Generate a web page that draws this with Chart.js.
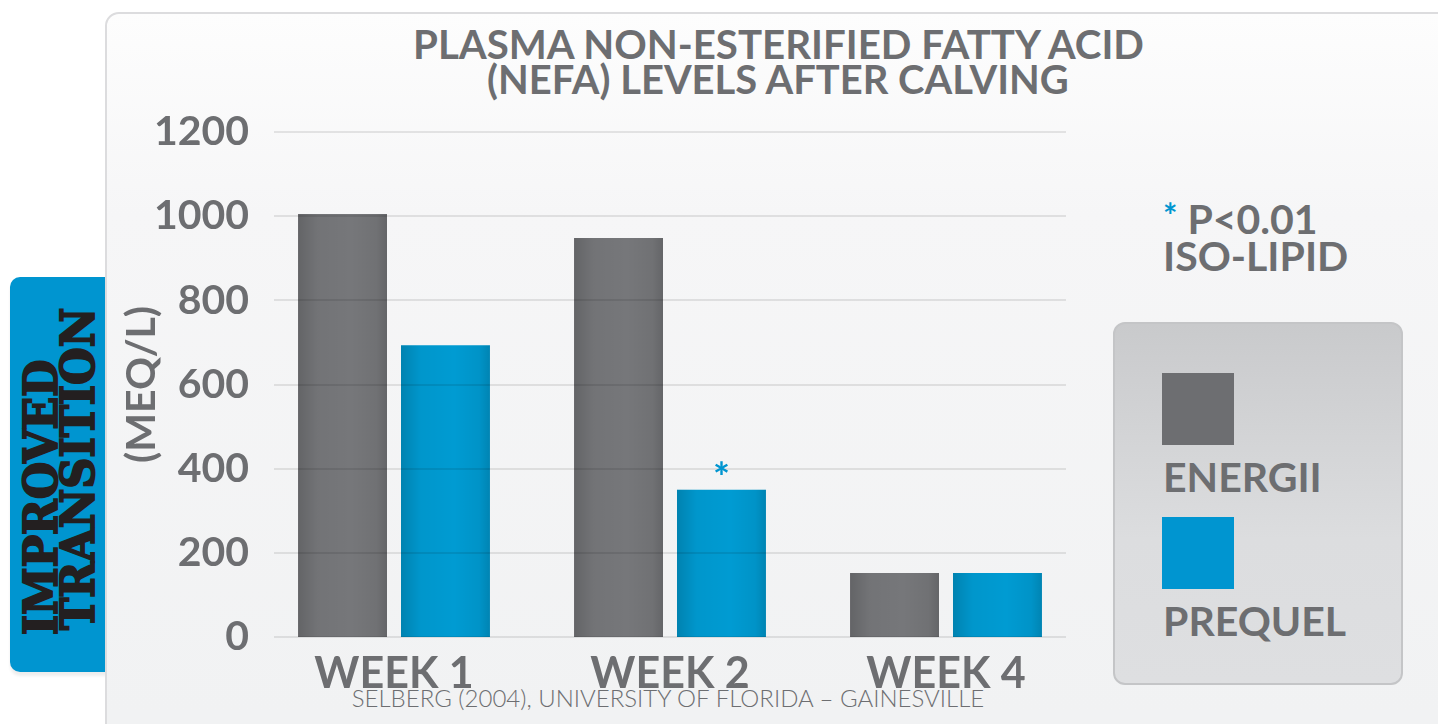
<!DOCTYPE html>
<html><head><meta charset="utf-8">
<script src="https://cdn.jsdelivr.net/npm/chart.js@4.4.1/dist/chart.umd.min.js"></script>
<style>
html,body{margin:0;padding:0;background:#fff;width:1438px;height:724px;overflow:hidden;font-family:Lato,sans-serif;}
#tab{position:absolute;left:10px;top:277px;width:120px;height:395px;background:#0095d0;border-radius:10px;box-shadow:0 4px 3px rgba(0,0,0,0.07);}
.tabline{position:absolute;transform-origin:0 0;font-family:"DejaVu Serif";font-weight:bold;color:#231f20;white-space:nowrap;line-height:1;font-size:47px;-webkit-text-stroke:2px #231f20;}
#panel{position:absolute;left:105px;top:12px;width:1400px;height:760px;border:2px solid #dcdcde;border-radius:14px;background:linear-gradient(#fdfdfd 0px,#f6f6f7 200px,#f1f2f3 700px);box-sizing:border-box;}
.txt{position:absolute;color:#6d6e71;font-weight:bold;font-size:41px;line-height:1;white-space:nowrap;}
#title{left:278px;width:1000px;top:26px;text-align:center;line-height:35px;}
#title div{display:inline-block;transform-origin:50% 50%;}
#note{left:1163px;top:196px;line-height:37px;}
#note .star{color:#0095d0;font-size:34px;vertical-align:6px;}
#source{left:218px;width:900px;top:686px;text-align:center;font-weight:300;font-size:24px;color:#6d6e71;}
#legend{position:absolute;left:1113px;top:322px;width:290px;height:363px;box-sizing:border-box;border:2px solid #c4c5c7;border-radius:12px;background:linear-gradient(#c9cacc,#dcdddf 60%,#dedfe1);}
.sw{position:absolute;left:47px;width:72px;height:72px;}
.lb{position:absolute;left:48px;color:#6d6e71;font-weight:bold;font-size:41px;line-height:1;}
#c{position:absolute;left:0;top:0;}
</style></head>
<body>
<div id="tab"></div>
<div class="tabline" id="tl1" style="left:17px;top:635px;">IMPROVED</div>
<div class="tabline" id="tl2" style="left:54px;top:630px;">TRANSITION</div>
<div id="panel"></div>
<div class="txt" id="title"><div id="t1">PLASMA NON-ESTERIFIED FATTY ACID</div><br><div id="t2">(NEFA) LEVELS AFTER CALVING</div></div>
<div class="txt" id="note"><span class="star">*</span> P&lt;0.01<br>ISO-LIPID</div>
<div class="txt" id="source">SELBERG (2004), UNIVERSITY OF FLORIDA – GAINESVILLE</div>
<div id="legend"></div>
<canvas id="c" width="1438" height="724"></canvas>
<script>
// ---- data ----
const categories = ['WEEK 1', 'WEEK 2', 'WEEK 4'];
const energii = [1005, 948, 152];
const prequel = [693, 350, 152];
const prequelSignificant = [false, true, false];
const yTickValues = [0, 200, 400, 600, 800, 1000, 1200];
const seriesNames = ['ENERGII', 'PREQUEL'];
const seriesColors = ['#76777a', '#009bd2'];
const legendColors = ['#6d6e71', '#0095d0'];

// ---- tab text fit ----
function fitRot(id, target){
  const el = document.getElementById(id);
  const w = el.offsetWidth;
  el.style.transform = 'rotate(-90deg) scaleX(' + (target / w) + ')';
}
fitRot('tl1', 276);
fitRot('tl2', 322);
function fitW(id, target){
  const el = document.getElementById(id);
  el.style.transform = 'scaleX(' + (target / el.offsetWidth) + ')';
}
fitW('t1', 731);
fitW('t2', 582);

// ---- legend ----
const legend = document.getElementById('legend');
seriesNames.forEach((name, i) => {
  const sw = document.createElement('div');
  sw.className = 'sw';
  sw.style.top = (49 + i * 144) + 'px';
  sw.style.background = legendColors[i];
  legend.appendChild(sw);
  const lb = document.createElement('div');
  lb.className = 'lb';
  lb.style.top = (132 + i * 144) + 'px';
  lb.textContent = name;
  legend.appendChild(lb);
});

// ---- plugins ----
const shadePlugin = {
  id: 'shade',
  afterDatasetsDraw(chart) {
    const ctx = chart.ctx;
    chart.data.datasets.forEach((ds, di) => {
      const meta = chart.getDatasetMeta(di);
      meta.data.forEach(el => {
        const p = el.getProps(['x', 'y', 'base', 'width'], true);
        const l = p.x - p.width / 2, r = p.x + p.width / 2;
        const g = ctx.createLinearGradient(l, 0, r, 0);
        g.addColorStop(0, 'rgba(0,0,0,0.16)');
        g.addColorStop(0.22, 'rgba(0,0,0,0.03)');
        g.addColorStop(0.6, 'rgba(0,0,0,0)');
        g.addColorStop(0.88, 'rgba(0,0,0,0.05)');
        g.addColorStop(1, 'rgba(0,0,0,0.15)');
        ctx.save();
        ctx.fillStyle = g;
        ctx.fillRect(l, p.y, p.width, p.base - p.y);
        ctx.restore();
      });
    });
  }
};
const gridPlugin = {
  id: 'grid2',
  afterDatasetsDraw(chart) {
    const ctx = chart.ctx, y = chart.scales.y, a = chart.chartArea;
    ctx.save();
    ctx.strokeStyle = 'rgba(0,0,0,0.09)';
    ctx.lineWidth = 2;
    y.ticks.forEach(t => {
      const py = Math.round(y.getPixelForValue(t.value));
      ctx.beginPath();
      ctx.moveTo(a.left + 18, py);
      ctx.lineTo(a.right - 18, py);
      ctx.stroke();
    });
    ctx.restore();
  }
};
const starPlugin = {
  id: 'star',
  afterDatasetsDraw(chart) {
    const ctx = chart.ctx;
    const meta = chart.getDatasetMeta(1);
    ctx.save();
    ctx.fillStyle = '#0095d0';
    ctx.font = 'bold 40px Lato';
    ctx.textAlign = 'center';
    ctx.textBaseline = 'alphabetic';
    meta.data.forEach((el, i) => {
      if (!prequelSignificant[i]) return;
      ctx.fillText('*', el.x, el.y + 2);
    });
    ctx.restore();
  }
};

const tickFont = { family: 'Lato', weight: 'bold', size: 41 };
new Chart(document.getElementById('c'), {
  type: 'bar',
  data: {
    labels: categories,
    datasets: [
      { label: seriesNames[0], data: energii, backgroundColor: seriesColors[0], categoryPercentage: 0.746, barPercentage: 0.864 },
      { label: seriesNames[1], data: prequel, backgroundColor: seriesColors[1], categoryPercentage: 0.746, barPercentage: 0.864 }
    ]
  },
  options: {
    responsive: false,
    devicePixelRatio: 1,
    animation: false,
    layout: { padding: { left: 0, right: 354, top: 132, bottom: 0 } },
    plugins: { legend: { display: false }, tooltip: { enabled: false }, title: { display: false } },
    scales: {
      x: {
        grid: { display: false }, border: { display: false },
        ticks: { color: '#6d6e71', font: { family: 'Lato', weight: 'bold', size: 43 }, padding: 3 },
        afterFit(s) { s.height = 87; }
      },
      y: {
        min: 0, max: 1200,
        afterBuildTicks(s) { s.ticks = yTickValues.map(v => ({ value: v })); },
        grid: { display: false, drawTicks: false }, border: { display: false },
        ticks: { color: '#6d6e71', font: tickFont, padding: 7, callback: v => String(v) },
        title: { display: true, text: '(MEQ/L)', color: '#6d6e71', font: tickFont, padding: { top: 117, bottom: 0 } },
        afterFit(s) { s.width = 256; }
      }
    }
  },
  plugins: [shadePlugin, gridPlugin, starPlugin]
});
</script>
</body></html>
